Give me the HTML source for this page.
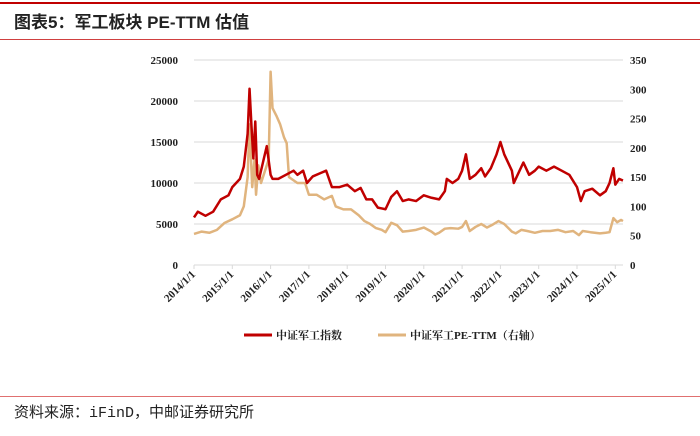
<!DOCTYPE html>
<html><head><meta charset="utf-8"><style>
body{margin:0;width:700px;height:436px;background:#fff;overflow:hidden;position:relative;font-family:"Liberation Serif","Noto Serif CJK SC",serif}
.t{position:absolute;left:14px;top:8px;font:bold 17px "Liberation Sans","Noto Sans CJK SC",sans-serif;color:#222}
.s{position:absolute;left:14px;top:401px;font:15px "Liberation Mono","Noto Sans CJK SC",monospace;color:#222}
</style></head><body>
<div style="position:absolute;left:0;top:2px;width:700px;height:2px;background:#c00000"></div>
<div class="t">图表5：军工板块 PE-TTM 估值</div>
<div style="position:absolute;left:0;top:39px;width:700px;height:1px;background:#d04040"></div>
<div style="position:absolute;left:0;top:396px;width:700px;height:1px;background:#e07070"></div>
<div class="s">资料来源：iFinD，中邮证券研究所</div>
<svg id="c" width="700" height="436" style="position:absolute;left:0;top:0"></svg>
<script>
const leftTicks=[0,5000,10000,15000,20000,25000];
const rightTicks=[0,50,100,150,200,250,300,350];
const xLabels=["2014/1/1","2015/1/1","2016/1/1","2017/1/1","2018/1/1","2019/1/1","2020/1/1","2021/1/1","2022/1/1","2023/1/1","2024/1/1","2025/1/1"];
const idxDates=[2014.0,2014.1,2014.3,2014.5,2014.7,2014.9,2015.0,2015.2,2015.3,2015.4,2015.45,2015.5,2015.55,2015.6,2015.65,2015.7,2015.8,2015.9,2016.0,2016.05,2016.2,2016.4,2016.6,2016.7,2016.85,2016.95,2017.1,2017.3,2017.45,2017.6,2017.8,2018.0,2018.2,2018.35,2018.5,2018.65,2018.8,2019.0,2019.15,2019.3,2019.45,2019.6,2019.8,2020.0,2020.2,2020.4,2020.55,2020.6,2020.75,2020.9,2021.0,2021.1,2021.2,2021.35,2021.5,2021.6,2021.75,2021.9,2022.0,2022.1,2022.3,2022.35,2022.5,2022.6,2022.75,2022.9,2023.0,2023.2,2023.4,2023.6,2023.8,2024.0,2024.1,2024.2,2024.4,2024.6,2024.75,2024.85,2024.95,2025.0,2025.1,2025.2];
const idxValues=[5800,6500,6000,6500,8000,8500,9500,10500,12000,16000,21500,17000,13000,17500,11000,10500,12500,14500,11000,10500,10500,11000,11500,11000,11500,10000,10800,11200,11500,9500,9500,9800,9000,9400,8000,8000,7000,6800,8300,9000,7800,8000,7800,8500,8200,8000,9000,10500,10000,10500,11500,13500,10500,11000,11800,10800,11800,13500,15000,13500,11500,10000,11500,12500,11000,11500,12000,11500,12000,11500,11000,9500,7800,9000,9300,8500,9000,10000,11800,9800,10500,10300];
const peDates=[2014.0,2014.2,2014.4,2014.6,2014.8,2015.0,2015.2,2015.3,2015.4,2015.45,2015.52,2015.58,2015.62,2015.68,2015.75,2015.85,2015.95,2016.0,2016.05,2016.15,2016.25,2016.35,2016.42,2016.48,2016.7,2016.9,2017.0,2017.2,2017.4,2017.6,2017.7,2017.9,2018.1,2018.3,2018.45,2018.6,2018.75,2018.9,2019.0,2019.15,2019.3,2019.45,2019.6,2019.8,2020.0,2020.2,2020.3,2020.4,2020.55,2020.7,2020.9,2021.0,2021.1,2021.2,2021.35,2021.5,2021.65,2021.8,2021.95,2022.1,2022.3,2022.4,2022.55,2022.7,2022.9,2023.1,2023.3,2023.5,2023.7,2023.9,2024.05,2024.15,2024.35,2024.6,2024.75,2024.85,2024.95,2025.05,2025.15,2025.2];
const peValues=[53,57,55,60,72,78,85,100,150,240,133,180,120,170,140,160,180,330,268,255,240,218,208,150,140,140,120,120,112,118,100,95,95,85,75,70,63,60,56,72,68,57,58,60,64,57,52,55,62,63,62,65,75,58,65,70,64,69,75,70,57,54,60,58,55,58,58,60,56,58,51,58,56,54,55,56,80,73,77,75];
const svg=document.getElementById('c'),NS='http://www.w3.org/2000/svg';
const X0=194,XS=38.3,Y0=265,YT=60;
const x=d=>X0+(d-2014)*XS;
const yL=v=>Y0-(v/25000)*(Y0-YT);
const yR=v=>Y0-(v/350)*(Y0-YT);
function mk(t,a,txt){const e=document.createElementNS(NS,t);for(const k in a)e.setAttribute(k,a[k]);if(txt!=null)e.textContent=txt;svg.appendChild(e);return e;}
leftTicks.forEach(v=>{
 if(v>0){const g=mk('line',{x1:X0,x2:623,y1:yL(v),y2:yL(v),stroke:'#d9d9d9','stroke-width':1});
 
 }
 const t=mk('text',{x:178,y:yL(v)+4,'text-anchor':'end','font-size':11,'font-weight':'bold',fill:'#222'},v);
 
 
});
rightTicks.forEach(v=>{
 const t=mk('text',{x:630,y:yR(v)+4,'font-size':11,'font-weight':'bold',fill:'#222'},v);
 
 
});
const ax=mk('line',{x1:X0,x2:623,y1:Y0,y2:Y0,stroke:'#d9d9d9','stroke-width':1});


xLabels.forEach((l,i)=>{
 const xx=x(2014+i);
 const tk=mk('line',{x1:xx,x2:xx,y1:Y0,y2:Y0+4,stroke:'#d9d9d9'});
 
 
 const t=mk('text',{x:xx+2,y:Y0+10,'text-anchor':'end','font-size':11,'font-weight':'bold',fill:'#222',transform:`rotate(-45 ${xx+2} ${Y0+10})`},l);
 
 
});
const pe=mk('polyline',{points:peDates.map((d,i)=>x(d)+','+yR(peValues[i])).join(' '),fill:'none',stroke:'#e0b47e','stroke-width':2.5,'stroke-linejoin':'round'});


const ix=mk('polyline',{points:idxDates.map((d,i)=>x(d)+','+yL(idxValues[i])).join(' '),fill:'none',stroke:'#c00000','stroke-width':2.5,'stroke-linejoin':'round'});


const l1=mk('line',{x1:244,x2:272,y1:335,y2:335,stroke:'#c00000','stroke-width':3});


const t1=mk('text',{x:276,y:339,'font-size':11,'font-weight':'bold',fill:'#222'},'中证军工指数');


const l2=mk('line',{x1:378,x2:406,y1:335,y2:335,stroke:'#e0b47e','stroke-width':3});


const t2=mk('text',{x:410,y:339,'font-size':11,'font-weight':'bold',fill:'#222'},'中证军工PE-TTM（右轴）');


</script>
</body></html>
